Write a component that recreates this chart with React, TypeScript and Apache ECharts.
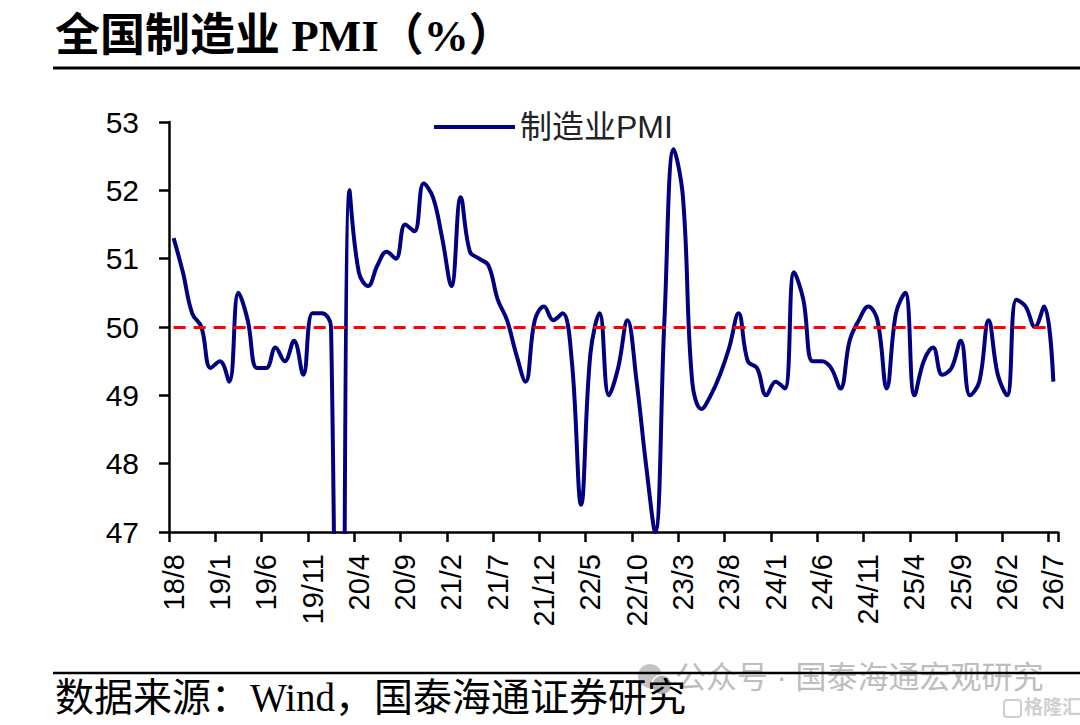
import { useRef, useEffect } from 'react'
import * as echarts from 'echarts'

// ── 数据 ──────────────────────────────────────────────────────────
const START_YEAR = 18
const START_MONTH = 8

// 月度制造业PMI（2018/8 – 2026/7）
const pmi2018 = [51.3, 50.8, 50.2, 50.0, 49.4]
const pmi2019 = [49.5, 49.2, 50.5, 50.1, 49.4, 49.4, 49.7, 49.5, 49.8, 49.3, 50.2, 50.2]
const pmi2020 = [50.0, 35.7, 52.0, 50.8, 50.6, 50.9, 51.1, 51.0, 51.5, 51.4, 52.1, 51.9]
const pmi2021 = [51.3, 50.6, 51.9, 51.1, 51.0, 50.9, 50.4, 50.1, 49.6, 49.2, 50.1, 50.3]
const pmi2022 = [50.1, 50.2, 49.5, 47.4, 49.6, 50.2, 49.0, 49.4, 50.1, 49.2, 48.0, 47.0]
const pmi2023 = [50.1, 52.6, 51.9, 49.2, 48.8, 49.0, 49.3, 49.7, 50.2, 49.5, 49.4, 49.0]
const pmi2024 = [49.2, 49.1, 50.8, 50.4, 49.5, 49.5, 49.4, 49.1, 49.8, 50.1, 50.3, 50.1]
const pmi2025 = [49.1, 50.2, 50.5, 49.0, 49.5, 49.7, 49.3, 49.4, 49.8, 49.0, 49.2, 50.1]
const pmi2026 = [49.3, 49.0, 50.4, 50.3, 50.0, 50.3, 49.2]

const pmiValues = [
  ...pmi2018, ...pmi2019, ...pmi2020, ...pmi2021, ...pmi2022,
  ...pmi2023, ...pmi2024, ...pmi2025, ...pmi2026,
]

// 类目：YY/M
const months: string[] = pmiValues.map((_, i) => {
  const m = START_MONTH - 1 + i
  return `${START_YEAR + Math.floor(m / 12)}/${(m % 12) + 1}`
})

const yTicks = [47, 48, 49, 50, 51, 52, 53]
const threshold = 50

const TITLE = '全国制造业 PMI（%）'
const SOURCE = '数据来源：Wind，国泰海通证券研究'
const WATERMARK = '公众号 · 国泰海通宏观研究'

const SANS = "'Liberation Sans', Arial, 'Noto Sans CJK SC', sans-serif"
const SERIF = "'Liberation Serif', 'Times New Roman', 'Noto Sans CJK SC', serif"

function buildOption(): echarts.EChartsOption {
  return {
    animation: false,
    backgroundColor: '#fff',
    grid: { left: 169, right: 22, top: 122, bottom: 193 },
    legend: {
      data: ['制造业PMI'],
      left: 434, top: 111,
      padding: 0,
      icon: 'rect',
      itemWidth: 81, itemHeight: 4,
      textStyle: { color: '#222', fontSize: 32, fontFamily: SANS, lineHeight: 32 },
    },
    xAxis: {
      type: 'category',
      data: months,
      boundaryGap: true,
      axisLine: { lineStyle: { color: '#000', width: 2.5 } },
      axisTick: { show: true, interval: 4, length: 10, lineStyle: { color: '#000', width: 2.5 } },
      axisLabel: {
        interval: 4, rotate: 90, margin: 22,
        color: '#000', fontSize: 29, fontFamily: SANS,
      },
      splitLine: { show: false },
    },
    yAxis: {
      type: 'value',
      min: yTicks[0], max: yTicks[yTicks.length - 1], interval: 1,
      axisLine: { show: true, lineStyle: { color: '#000', width: 2.5 } },
      axisTick: { show: true, length: 10, lineStyle: { color: '#000', width: 2.5 } },
      axisLabel: { margin: 30, color: '#000', fontSize: 30, fontFamily: SANS },
      splitLine: { show: false },
    },
    graphic: [
      {
        type: 'text', left: 55, top: 13,
        style: { text: TITLE, fill: '#000', font: `bold 45px ${SERIF}` },
      },
      {
        type: 'line',
        shape: { x1: 53, y1: 68, x2: 1080, y2: 68 },
        style: { stroke: '#000', lineWidth: 3 },
      },
      {
        type: 'circle', z: 0,
        shape: { cx: 650, cy: 676, r: 12 },
        style: { fill: '#c4c4c4' },
      },
      {
        type: 'circle', z: 0,
        shape: { cx: 662, cy: 685, r: 10 },
        style: { fill: '#b4b4b4', stroke: '#fff', lineWidth: 1.5 },
      },
      {
        type: 'text', left: 675, top: 662, z: 0,
        style: { text: WATERMARK, fill: '#bdbdbd', font: `31px ${SANS}` },
      },
      {
        type: 'line',
        shape: { x1: 53, y1: 673, x2: 1080, y2: 673 },
        style: { stroke: '#000', lineWidth: 2.5 },
      },
      {
        type: 'text', left: 55, top: 678,
        style: { text: SOURCE, fill: '#000', font: `39px ${SERIF}` },
      },
      {
        type: 'rect', z: 0,
        shape: { x: 1004, y: 700, width: 17, height: 17, r: 3 },
        style: { fill: 'none', stroke: '#cfcfcf', lineWidth: 2 },
      },
      {
        type: 'text', left: 1024, top: 698, z: 0,
        style: { text: '格隆汇', fill: '#cfcfcf', font: `bold 19px ${SANS}` },
      },
    ],
    series: [
      {
        name: '制造业PMI',
        type: 'line',
        data: pmiValues,
        smooth: 0.4,
        symbol: 'none',
        clip: true,
        lineStyle: { color: '#000080', width: 4 },
        itemStyle: { color: '#000080' },
        markLine: {
          silent: true,
          symbol: ['none', 'none'],
          label: { show: false },
          lineStyle: { color: '#ff0000', type: [12, 8], width: 3 },
          data: [[
            { coord: [months[0], threshold] },
            { coord: [months[months.length - 1], threshold] },
          ]],
        },
      },
    ],
  } as echarts.EChartsOption
}

export default function App() {
  const containerRef = useRef<HTMLDivElement>(null)

  useEffect(() => {
    if (!containerRef.current) return
    const chart = echarts.init(containerRef.current, undefined, { renderer: 'svg' })
    chart.setOption(buildOption())
    return () => chart.dispose()
  }, [])

  return (
    <div
      ref={containerRef}
      style={{ position: 'fixed', left: 0, top: 0, width: 1080, height: 725, background: '#fff' }}
    />
  )
}
